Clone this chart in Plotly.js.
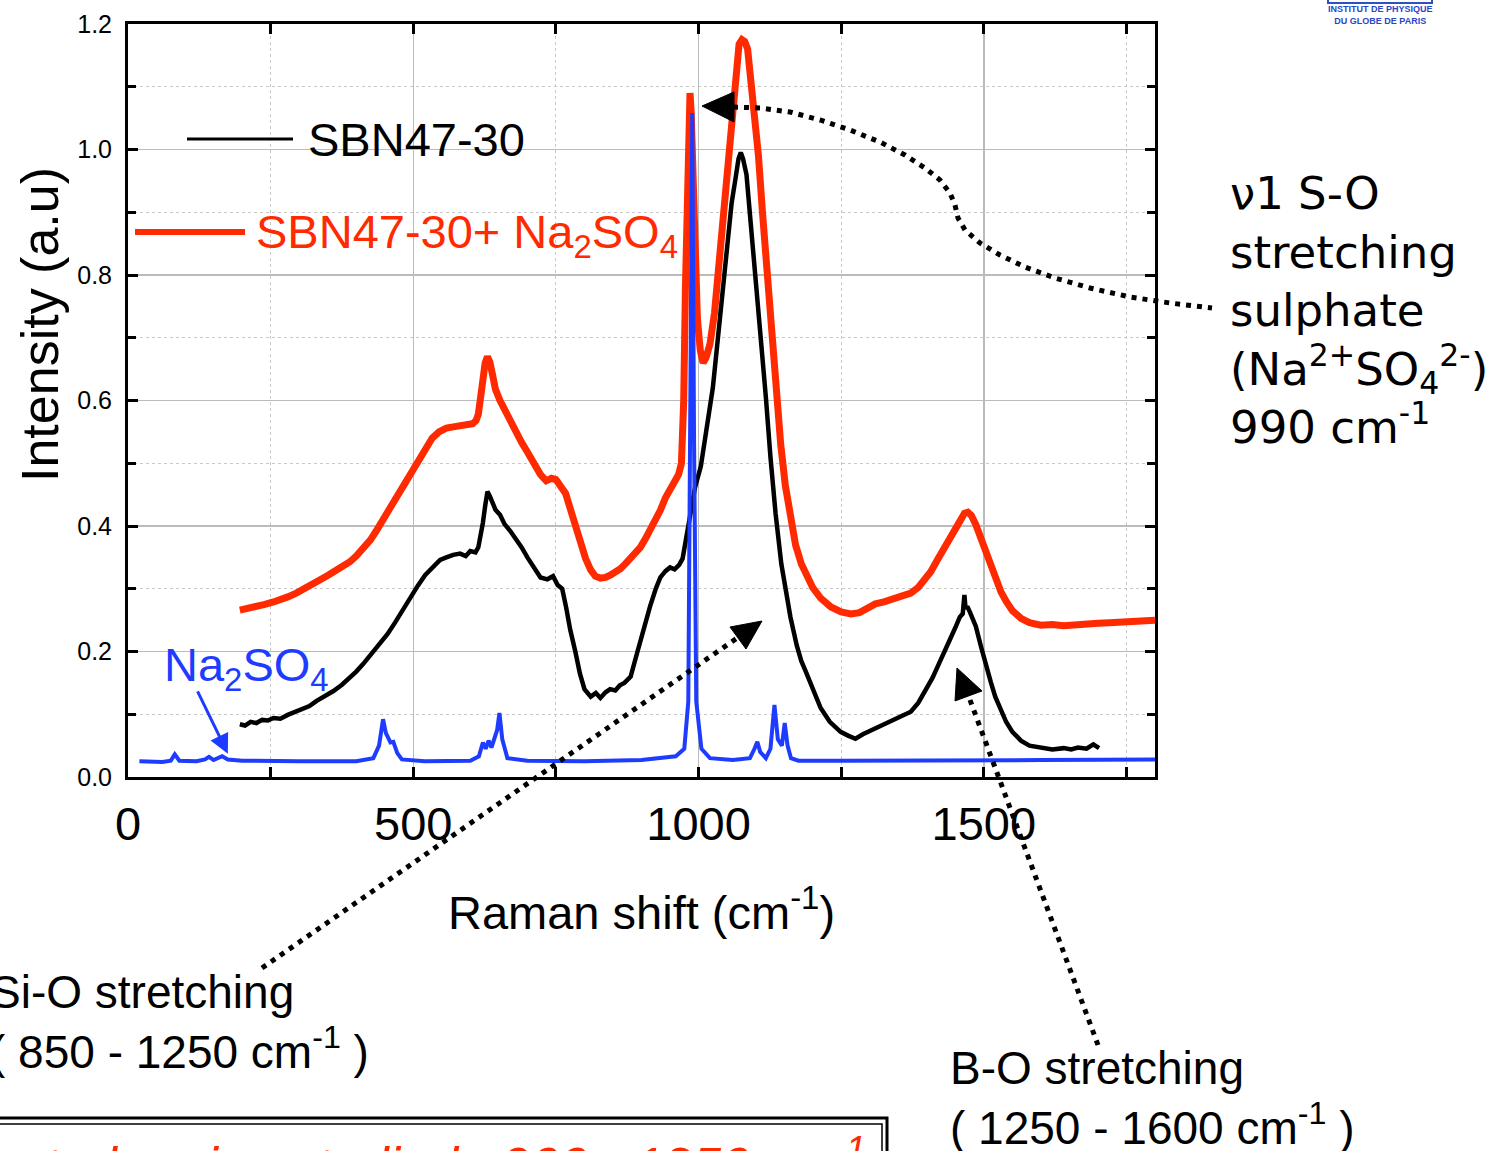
<!DOCTYPE html>
<html>
<head>
<meta charset="utf-8">
<script src="https://cdn.plot.ly/plotly-3.0.1.min.js"></script>
<style>html,body{margin:0;padding:0;background:#fff;}#chart{width:1501px;height:1151px;}</style>
</head>
<body>
<div id="chart"></div>
<script>
// ---- data ----
const seriesNames = ["SBN47-30", "SBN47-30+ Na<sub>2</sub>SO<sub>4</sub>", "Na<sub>2</sub>SO<sub>4</sub>"];

const blackX = [196,205,215,225,235,245,255,267,280,292,305,318,330,345,360,375,389,400,412,425,440,455,468,480,495,508,521,534,547,558,570,582,592,600,609,614,618,622,626,630,634,638,644,652,660,670,680,690,700,710,723,735,745,753,761,768,775,784,792,800,811,820,828,837,845,854,862,870,881,890,900,907,915,925,933,942,950,958,966,972,978,986,994,1004,1014,1025,1034,1042,1050,1058,1065,1070,1074,1078,1084,1092,1100,1109,1118,1126,1135,1145,1155,1161,1172,1180,1188,1200,1214,1230,1249,1262,1275,1288,1302,1315,1327,1337,1350,1362,1372,1385,1398,1410,1420,1430,1440,1451,1458,1463,1466,1468,1471,1476,1486,1495,1503,1512,1520,1530,1539,1550,1565,1580,1600,1620,1640,1653,1665,1680,1692,1702];
const blackY = [0.084,0.082,0.088,0.086,0.091,0.090,0.094,0.093,0.099,0.103,0.108,0.113,0.121,0.128,0.137,0.147,0.158,0.168,0.180,0.195,0.212,0.228,0.246,0.264,0.285,0.305,0.322,0.335,0.346,0.350,0.354,0.356,0.352,0.360,0.358,0.366,0.382,0.405,0.432,0.455,0.448,0.438,0.426,0.418,0.403,0.392,0.380,0.366,0.350,0.336,0.318,0.315,0.320,0.306,0.300,0.270,0.235,0.200,0.165,0.140,0.128,0.134,0.126,0.135,0.140,0.138,0.146,0.150,0.160,0.190,0.225,0.245,0.272,0.300,0.318,0.328,0.334,0.331,0.338,0.348,0.380,0.425,0.462,0.495,0.555,0.620,0.700,0.775,0.850,0.915,0.955,0.985,0.995,0.985,0.960,0.880,0.795,0.700,0.605,0.510,0.420,0.340,0.280,0.255,0.210,0.185,0.168,0.140,0.110,0.088,0.072,0.066,0.061,0.068,0.074,0.078,0.085,0.089,0.094,0.099,0.104,0.118,0.138,0.158,0.178,0.196,0.218,0.240,0.255,0.260,0.290,0.268,0.272,0.262,0.240,0.208,0.180,0.152,0.128,0.105,0.088,0.072,0.058,0.050,0.047,0.044,0.046,0.044,0.047,0.045,0.052,0.046];

const redX = [196,210,225,240,255,267,280,295,310,325,337,350,362,375,389,400,412,425,435,445,455,466,477,488,500,512,523,533,545,558,570,582,592,604,610,614,618,622,626,630,634,638,644,652,660,670,680,690,700,710,723,733,742,750,758,767,776,784,793,802,811,819,828,837,846,855,863,872,881,890,898,907,916,925,933,942,950,958,965,970,974,977,980,983,985,987,990,994,998,1003,1008,1013,1020,1028,1036,1044,1052,1060,1066,1071,1076,1081,1086,1092,1098,1105,1112,1120,1128,1136,1144,1152,1161,1170,1180,1190,1200,1214,1232,1250,1267,1282,1295,1310,1325,1337,1350,1362,1372,1385,1397,1407,1418,1430,1442,1452,1460,1466,1472,1478,1486,1495,1503,1512,1520,1530,1539,1550,1565,1580,1600,1620,1640,1660,1680,1700,1720,1740,1760,1780,1800];
const redY = [0.266,0.268,0.272,0.275,0.279,0.282,0.287,0.293,0.300,0.308,0.313,0.321,0.328,0.335,0.343,0.352,0.364,0.378,0.392,0.408,0.422,0.438,0.455,0.472,0.490,0.508,0.525,0.540,0.550,0.556,0.558,0.559,0.562,0.563,0.568,0.578,0.605,0.635,0.660,0.670,0.662,0.645,0.618,0.600,0.585,0.566,0.550,0.533,0.518,0.500,0.482,0.472,0.476,0.474,0.465,0.452,0.425,0.400,0.372,0.348,0.330,0.320,0.317,0.318,0.322,0.327,0.332,0.340,0.348,0.357,0.366,0.380,0.395,0.412,0.425,0.445,0.458,0.470,0.482,0.500,0.600,0.780,0.950,1.070,1.090,1.060,0.960,0.820,0.730,0.680,0.660,0.668,0.690,0.740,0.820,0.910,0.990,1.060,1.130,1.168,1.175,1.172,1.160,1.110,1.060,0.990,0.900,0.800,0.700,0.610,0.530,0.465,0.410,0.370,0.340,0.318,0.302,0.285,0.271,0.263,0.260,0.262,0.268,0.276,0.279,0.282,0.285,0.290,0.293,0.302,0.315,0.327,0.345,0.365,0.385,0.400,0.413,0.420,0.422,0.417,0.402,0.380,0.358,0.338,0.315,0.295,0.280,0.265,0.253,0.246,0.242,0.243,0.241,0.243,0.244,0.245,0.246,0.247,0.248,0.249,0.250];

const blueX = [20,60,75,82,90,120,135,142,150,158,165,175,200,300,400,430,440,447,452,460,465,472,480,520,600,615,622,627,632,637,642,647,651,656,665,700,800,900,960,975,982,986,989,992,996,1005,1020,1060,1090,1098,1103,1108,1118,1126,1133,1139,1146,1151,1156,1162,1175,1250,1400,1600,1800];
const blueY = [0.025,0.024,0.026,0.036,0.026,0.025,0.028,0.032,0.027,0.030,0.033,0.028,0.026,0.025,0.025,0.030,0.050,0.092,0.070,0.055,0.056,0.038,0.028,0.025,0.026,0.033,0.055,0.045,0.058,0.047,0.060,0.075,0.102,0.060,0.030,0.026,0.025,0.027,0.033,0.045,0.120,0.600,1.058,0.550,0.120,0.045,0.030,0.027,0.030,0.045,0.056,0.040,0.030,0.045,0.115,0.060,0.050,0.086,0.050,0.030,0.026,0.026,0.026,0.027,0.028];

// ---- geometry helpers (pixel -> paper) ----
const L = 128, R = 1155, T = 24, B = 777;
const PX = x => (x - L) / (R - L);
const PY = y => (B - y) / (B - T);
function pathFrom(points, close) {
  return points.map((p, i) => (i ? 'L' : 'M') + PX(p[0]).toFixed(5) + ',' + PY(p[1]).toFixed(5)).join(' ') + (close ? ' Z' : '');
}

const RED = '#ff2a00', BLUE = '#1e3cff';
const ARIAL = 'Liberation Sans, Arial, sans-serif';

const traces = [
  {x: redX, y: redY, mode: 'lines', name: seriesNames[1], line: {color: RED, width: 7}},
  {x: blackX, y: blackY, mode: 'lines', name: seriesNames[0], line: {color: '#000', width: 4.5}},
  {x: blueX, y: blueY, mode: 'lines', name: seriesNames[2], line: {color: BLUE, width: 4}}
];

const dotLine = {color: '#000', width: 5, dash: '5px,6px'};
const shapes = [
  // legend backgrounds
  {type: 'rect', xref: 'paper', yref: 'paper', x0: PX(131), x1: PX(571), y0: PY(174), y1: PY(106), fillcolor: '#fff', line: {width: 0}, layer: 'below'},
  {type: 'rect', xref: 'paper', yref: 'paper', x0: PX(252), x1: PX(682), y0: PY(272), y1: PY(196), fillcolor: '#fff', line: {width: 0}, layer: 'below'},
  // legend samples
  {type: 'line', xref: 'paper', yref: 'paper', x0: PX(187), x1: PX(293), y0: PY(139), y1: PY(139), line: {color: '#000', width: 3}},
  {type: 'line', xref: 'paper', yref: 'paper', x0: PX(135), x1: PX(245), y0: PY(232), y1: PY(232), line: {color: RED, width: 6}},
  // v1 S-O dotted curve + head
  {type: 'path', xref: 'paper', yref: 'paper', path: pathFrom([[733,107],[760,108],[790,112],[820,120],[850,130],[880,142],[905,155],[925,168],[940,180],[950,193],[955,205],[958,218],[965,230],[980,243],[1000,255],[1025,267],[1055,278],[1090,288],[1130,297],[1170,303],[1212,308]]), line: dotLine},
  {type: 'path', xref: 'paper', yref: 'paper', path: pathFrom([[702,106],[734,92],[734,122]], true), fillcolor: '#000', line: {color: '#000', width: 1}},
  // Si-O dotted line + head
  {type: 'line', xref: 'paper', yref: 'paper', x0: PX(262), y0: PY(968), x1: PX(740), y1: PY(636), line: dotLine},
  {type: 'path', xref: 'paper', yref: 'paper', path: pathFrom([[762,621],[746,649],[730,627]], true), fillcolor: '#000', line: {color: '#000', width: 1}},
  // B-O dotted line + head
  {type: 'line', xref: 'paper', yref: 'paper', x0: PX(1098), y0: PY(1045), x1: PX(970), y1: PY(700), line: dotLine},
  {type: 'path', xref: 'paper', yref: 'paper', path: pathFrom([[957,668],[982,691],[955,701]], true), fillcolor: '#000', line: {color: '#000', width: 1}},
  // bottom double-framed box
  {type: 'rect', xref: 'paper', yref: 'paper', x0: PX(-20), x1: PX(887), y0: PY(1170), y1: PY(1118), line: {color: '#000', width: 3}, fillcolor: 'rgba(0,0,0,0)'},
  {type: 'rect', xref: 'paper', yref: 'paper', x0: PX(-20), x1: PX(882), y0: PY(1170), y1: PY(1124), line: {color: '#000', width: 1.5}, fillcolor: 'rgba(0,0,0,0)'},
  // logo bar
  {type: 'rect', xref: 'paper', yref: 'paper', x0: PX(1328), x1: PX(1432), y0: PY(3), y1: PY(-6), line: {color: '#3050c0', width: 2}, fillcolor: 'rgba(0,0,0,0)'}
];

function note(x, y, text, font, extra) {
  return Object.assign({xref: 'paper', yref: 'paper', x: PX(x), y: PY(y), text: text, showarrow: false,
    xanchor: 'center', yanchor: 'middle', font: font}, extra || {});
}

const annotations = [
  note(40, 325, 'Intensity (a.u)', {family: ARIAL, size: 52, color: '#000'}, {textangle: -90}),
  note(641, 909, 'Raman shift (cm<sup>-1</sup>)', {family: ARIAL, size: 47, color: '#000'}),
  note(306, 139, seriesNames[0], {family: ARIAL, size: 47, color: '#000'}, {xanchor: 'left'}),
  note(254, 235, seriesNames[1], {family: ARIAL, size: 47, color: RED}, {xanchor: 'left'}),
  note(162, 668, seriesNames[2], {family: ARIAL, size: 47, color: BLUE}, {xanchor: 'left'}),
  {x: 175, y: 0.037, text: '', showarrow: true, ax: -31, ay: -64, arrowcolor: BLUE, arrowwidth: 3, arrowhead: 2, arrowsize: 1.3},
  note(1228, 165, '\u03bd1 S-O<br>stretching<br>sulphate<br>(Na<sup>2+</sup>SO<sub>4</sub><sup>2-</sup>)<br>990 cm<sup>-1</sup>',
    {family: 'DejaVu Sans, sans-serif', size: 45, color: '#000'}, {xanchor: 'left', yanchor: 'top', align: 'left'}),
  note(-12, 1022, 'Si-O stretching<br>( 850 - 1250 cm<sup>-1</sup> )', {family: ARIAL, size: 46, color: '#000'}, {xanchor: 'left', align: 'left'}),
  note(948, 1098, 'B-O stretching<br>( 1250 - 1600 cm<sup>-1</sup> )', {family: ARIAL, size: 46, color: '#000'}, {xanchor: 'left', align: 'left'}),
  note(868, 1127, '<i>Spectral region studied : 900 - 1250 cm<sup>-1</sup></i>', {family: ARIAL, size: 52, color: RED}, {xanchor: 'right', yanchor: 'top'}),
  note(1380, 15, '<b>INSTITUT DE PHYSIQUE<br>DU GLOBE DE PARIS</b>', {family: ARIAL, size: 9, color: '#2a46c8'})
];

const layout = {
  width: 1501, height: 1151,
  margin: {l: L, r: 1501 - R, t: T, b: 1151 - B, pad: 0},
  paper_bgcolor: '#fff', plot_bgcolor: '#fff',
  showlegend: false,
  xaxis: {
    range: [0, 1800], tick0: 0, dtick: 500, showgrid: true, gridcolor: '#bbbbbb', gridwidth: 1.5,
    zeroline: false, showline: true, linecolor: '#000', linewidth: 3, mirror: 'allticks',
    ticks: 'inside', ticklen: 10, tickwidth: 3, tickcolor: '#000', ticklabelstandoff: 4,
    tickfont: {family: ARIAL, size: 47, color: '#000'},
    minor: {dtick: 250, showgrid: true, gridcolor: '#c8c8c8', griddash: 'dot', gridwidth: 1, ticks: 'inside', ticklen: 10, tickwidth: 3, tickcolor: '#000'}
  },
  yaxis: {
    range: [0, 1.2], tick0: 0, dtick: 0.2, tickformat: '.1f', showgrid: true, gridcolor: '#bbbbbb', gridwidth: 1.5,
    zeroline: false, showline: true, linecolor: '#000', linewidth: 3, mirror: 'allticks',
    ticks: 'inside', ticklen: 10, tickwidth: 3, tickcolor: '#000', ticklabelstandoff: 8,
    tickfont: {family: ARIAL, size: 25, color: '#000'},
    minor: {dtick: 0.1, showgrid: true, gridcolor: '#c8c8c8', griddash: 'dot', gridwidth: 1, ticks: 'inside', ticklen: 8, tickwidth: 3, tickcolor: '#000'}
  },
  shapes: shapes,
  annotations: annotations
};

Plotly.newPlot('chart', traces, layout, {displayModeBar: false, staticPlot: true});
</script>
</body>
</html>
